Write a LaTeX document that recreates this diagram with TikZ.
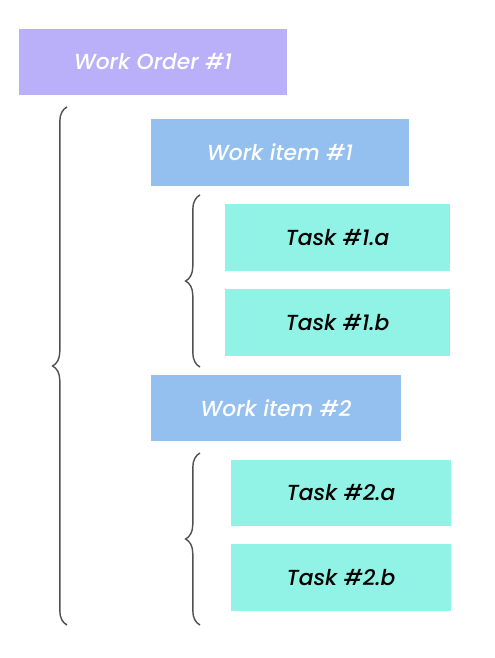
\documentclass[tikz,border=0pt]{standalone}
\usepackage{fontspec}
\setmainfont{Poppins}
\IfFontExistsTF{Poppins Medium Italic}
  {\newfontfamily\labelfont{Poppins Medium Italic}}
  {\newfontfamily\labelfont{Poppins Italic}}
\usetikzlibrary{decorations.pathreplacing}
\definecolor{order}{RGB}{186,176,250}
\definecolor{item}{RGB}{147,192,239}
\definecolor{task}{RGB}{145,243,230}
\definecolor{bracegray}{RGB}{80,80,80}

\begin{document}
\begin{tikzpicture}[x=0.025cm, y=-0.025cm,
  box/.style={minimum height=1.65cm, inner sep=0pt, font=\labelfont\fontsize{15.5}{18}\selectfont},
  orderbox/.style={box, fill=order, text=white, minimum width=6.7cm},
  itembox/.style={box, fill=item, text=white, minimum width=#1},
  taskbox/.style={box, fill=task, text=black, minimum width=#1},
  curly/.style={draw=bracegray, line width=1pt, decorate, decoration={brace, amplitude=0.36cm}},
]
\useasboundingbox (0,0) rectangle (494,658);

\node[orderbox] (order) at (153,62) {Work Order \#1};

\node[itembox=6.45cm] (item1) at (280,152.5) {Work item \#1};
\node[taskbox=5.63cm] (task1a) at (337.5,237.5) {Task \#1.a};
\node[taskbox=5.63cm] (task1b) at (337.5,322.5) {Task \#1.b};

\node[itembox=6.25cm] (item2) at (276,408) {Work item \#2};
\node[taskbox=5.48cm] (task2a) at (341,493) {Task \#2.a};
\node[taskbox=5.48cm] (task2b) at (341,577.5) {Task \#2.b};

% braces
\coordinate (ordtop) at (67,107);
\coordinate (ordbot) at (67,625);
\coordinate (it1top) at (200,195);
\coordinate (it1bot) at (200,367);
\coordinate (it2top) at (200,453);
\coordinate (it2bot) at (200,625);
\draw[curly] (ordbot) -- (ordtop);
\draw[curly] (it1bot) -- (it1top);
\draw[curly] (it2bot) -- (it2top);
\end{tikzpicture}
\end{document}
